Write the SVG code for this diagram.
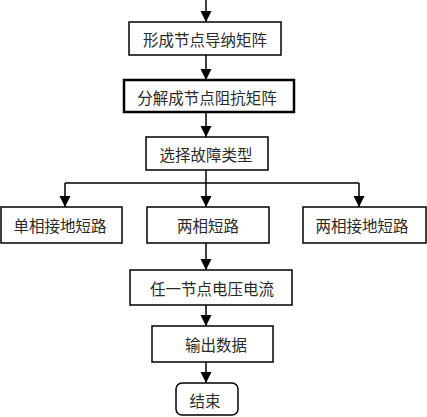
<svg xmlns="http://www.w3.org/2000/svg" width="427" height="417" viewBox="0 0 427 417">
<style>
.box{fill:#fff;stroke:#000;stroke-width:1.5}
.thick{stroke-width:2.5}
.t{font-family:"Noto Sans CJK SC","Noto Sans CJK JP",sans-serif;font-size:15.5px;fill:#2a2a2a;text-anchor:middle;dominant-baseline:central}
.c{fill:none;stroke:#000;stroke-width:1.5}
</style>
<defs>
<marker id="ah" markerUnits="userSpaceOnUse" markerWidth="11" markerHeight="12" refX="10" refY="5" orient="auto" viewBox="0 0 10 10">
<path d="M0,0 L10,5 L0,10 Z" fill="#000"/>
</marker>
</defs>
<rect width="427" height="417" fill="#fff"/>
<g id="connectors">
<line class="c" x1="206" y1="0" x2="206" y2="22" marker-end="url(#ah)"/>
<line class="c" x1="206" y1="55" x2="206" y2="80" marker-end="url(#ah)"/>
<line class="c" x1="206" y1="112" x2="206" y2="137" marker-end="url(#ah)"/>
<polyline class="c" points="206,170 206,183"/>
<polyline class="c" points="65,183 359,183"/>
<line class="c" x1="65" y1="183" x2="65" y2="207" marker-end="url(#ah)"/>
<line class="c" x1="206" y1="183" x2="206" y2="207" marker-end="url(#ah)"/>
<line class="c" x1="359" y1="183" x2="359" y2="207" marker-end="url(#ah)"/>
<line class="c" x1="206" y1="243" x2="206" y2="270" marker-end="url(#ah)"/>
<line class="c" x1="206" y1="305" x2="206" y2="326" marker-end="url(#ah)"/>
<line class="c" x1="206" y1="362" x2="206" y2="383" marker-end="url(#ah)"/>
</g>
<g id="n1"><rect class="box" x="129" y="22" width="152" height="33"/><text class="t" x="205" y="39">形成节点导纳矩阵</text></g>
<g id="n2"><rect class="box thick" x="124" y="80" width="170" height="32"/><text class="t" x="207" y="97">分解成节点阻抗矩阵</text></g>
<g id="n3"><rect class="box" x="146" y="137" width="122" height="33"/><text class="t" x="206" y="154">选择故障类型</text></g>
<g id="n4"><rect class="box" x="1" y="207" width="121" height="36"/><text class="t" x="60" y="225">单相接地短路</text></g>
<g id="n5"><rect class="box" x="147" y="207" width="122" height="36"/><text class="t" x="208" y="225">两相短路</text></g>
<g id="n6"><rect class="box" x="303" y="207" width="123" height="36"/><text class="t" x="362" y="225">两相接地短路</text></g>
<g id="n7"><rect class="box" x="130" y="270" width="162" height="35"/><text class="t" x="212" y="288">任一节点电压电流</text></g>
<g id="n8"><rect class="box" x="152" y="326" width="121" height="36"/><text class="t" x="216" y="344">输出数据</text></g>
<g id="n9"><rect class="box" x="176" y="383" width="62" height="32" rx="6"/><text class="t" x="205" y="400">结束</text></g>
</svg>
